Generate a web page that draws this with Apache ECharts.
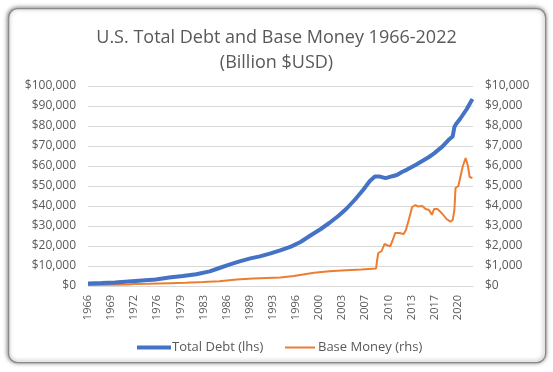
<!DOCTYPE html>
<html>
<head>
<meta charset="utf-8">
<script src="https://cdn.jsdelivr.net/npm/echarts@6/dist/echarts.min.js"></script>
<style>
html,body{margin:0;padding:0;background:#fff;}
#c{width:553px;height:372px;}
</style>
</head>
<body>
<div id="c"></div>
<script>
// Tick labels on the x axis (one every 41 months from Jan 1966)
const xTickLabels = ['1966','1969','1972','1976','1979','1983','1986','1989','1993','1996','2000','2003','2007','2010','2013','2017','2020'];
// Y axis tick values
const leftTicks = [0,10000,20000,30000,40000,50000,60000,70000,80000,90000,100000];
const rightTicks = [0,1000,2000,3000,4000,5000,6000,7000,8000,9000,10000];

// Total Debt (billion USD, left axis)
const debtDates = ['1966-01','1968-01','1970-01','1972-01','1974-01','1976-01','1978-01','1980-01','1982-01','1984-01','1985-06','1987-01','1988-06','1990-01','1991-06','1993-01','1994-06','1996-01','1997-06','1999-01','2000-06','2001-09','2003-01','2004-03','2005-06','2006-09','2007-09','2008-06','2009-03','2010-01','2011-01','2011-09','2012-06','2013-03','2014-06','2015-03','2016-06','2017-03','2018-06','2019-06','2019-12','2020-03','2020-06','2021-01','2022-01','2022-11'];
const debtValues = [1300,1500,1800,2300,2800,3300,4200,5000,5900,7300,9000,10800,12300,13800,14800,16300,17800,19700,22000,25500,28500,31500,35000,38500,43000,48000,52500,54800,54700,53900,54900,55500,57000,58200,60500,62000,64500,66300,69800,73400,74800,79500,81000,83500,88500,93500];

// Base Money (billion USD, right axis)
const baseDates = ['1966-01','1969-01','1972-01','1972-12','1975-01','1978-01','1980-06','1983-01','1985-06','1988-01','1990-06','1992-06','1994-06','1996-06','1999-06','2001-09','2004-03','2006-06','2008-08','2008-10','2008-12','2009-06','2009-11','2010-03','2010-09','2011-01','2011-06','2012-01','2012-09','2013-01','2013-06','2013-12','2014-06','2014-10','2015-06','2015-12','2016-06','2016-11','2017-03','2017-09','2018-06','2019-01','2019-08','2019-12','2020-03','2020-05','2020-10','2020-12','2021-06','2021-11','2021-12','2022-03','2022-06','2022-11'];
const baseValues = [50,65,80,95,110,140,165,195,240,330,370,400,430,500,660,740,790,820,880,1300,1650,1750,2100,2050,1980,2250,2650,2650,2600,2800,3300,3950,4050,3980,4000,3850,3800,3560,3850,3850,3600,3350,3220,3300,3800,4900,5000,5250,6000,6400,6450,6000,5450,5400];

function monthIndex(d){ const p=d.split('-'); return (parseInt(p[0])-1966)*12 + (parseInt(p[1])-1); }
const debtData = debtDates.map((d,i)=>[monthIndex(d), debtValues[i]]);
const baseData = baseDates.map((d,i)=>[monthIndex(d), baseValues[i]]);
const money = v=>'$'+v.toLocaleString('en-US');

const txt = '#595959';
const font = 'Open Sans';
const chart = echarts.init(document.getElementById('c'));
chart.setOption({
  animation:false,
  backgroundColor:'#fff',
  graphic:[{
    type:'rect', left:8, top:8, silent:true,
    shape:{width:537, height:354, r:9},
    style:{fill:'#fff', stroke:'#8a8a8a', lineWidth:1.3, shadowBlur:4, shadowColor:'rgba(0,0,0,0.5)', shadowOffsetX:-0.5, shadowOffsetY:-0.5},
    z:-10
  }],
  title:{
    text:'U.S. Total Debt and Base Money 1966-2022\n(Billion $USD)',
    left:'center', top:20,
    textStyle:{color:txt, fontFamily:font, fontWeight:'normal', fontSize:18, lineHeight:25}
  },
  legend:[{
    data:[{name:'Total Debt (lhs)', icon:'rect'}],
    left:132, top:336, itemWidth:34, itemHeight:4, itemGap:2,
    textStyle:{color:txt, fontFamily:font, fontSize:13, padding:[0,0,0,-4]}
  },{
    data:[{name:'Base Money (rhs)', icon:'rect'}],
    left:280, top:336, itemWidth:30, itemHeight:2, itemGap:2,
    textStyle:{color:txt, fontFamily:font, fontSize:13, padding:[0,0,0,-2]}
  }],
  grid:{left:88, right:80, top:86, height:200},
  xAxis:{
    type:'value', min:0, max:683, interval:41,
    axisLine:{show:true, lineStyle:{color:'#d9d9d9'}},
    axisTick:{show:false},
    splitLine:{show:false},
    axisLabel:{
      rotate:90, color:txt, fontFamily:font, fontSize:11, margin:9,
      showMaxLabel:false,
      formatter:function(v){ return (v%41===0) ? (xTickLabels[v/41]||'') : ''; }
    }
  },
  yAxis:[{
    type:'value', min:leftTicks[0], max:leftTicks[leftTicks.length-1], interval:leftTicks[1]-leftTicks[0], position:'left',
    axisLine:{show:false}, axisTick:{show:false},
    splitLine:{show:true, showMinLine:true, showMaxLine:true, lineStyle:{color:'#d9d9d9'}},
    axisLabel:{color:txt, fontFamily:font, fontSize:12, margin:12, showMinLabel:true, showMaxLabel:true, formatter:money}
  },{
    type:'value', min:rightTicks[0], max:rightTicks[rightTicks.length-1], interval:rightTicks[1]-rightTicks[0], position:'right',
    axisLine:{show:false}, axisTick:{show:false},
    splitLine:{show:false},
    axisLabel:{color:txt, fontFamily:font, fontSize:12, margin:12, showMinLabel:true, showMaxLabel:true, formatter:money}
  }],
  series:[{
    name:'Total Debt (lhs)', type:'line', yAxisIndex:0, data:debtData,
    showSymbol:false, symbol:'none',
    lineStyle:{color:'#4472C4', width:4}, itemStyle:{color:'#4472C4'}, z:3
  },{
    name:'Base Money (rhs)', type:'line', yAxisIndex:1, data:baseData,
    showSymbol:false, symbol:'none',
    lineStyle:{color:'#ED7D31', width:2}, itemStyle:{color:'#ED7D31'}, z:2
  }]
});
</script>
</body>
</html>
